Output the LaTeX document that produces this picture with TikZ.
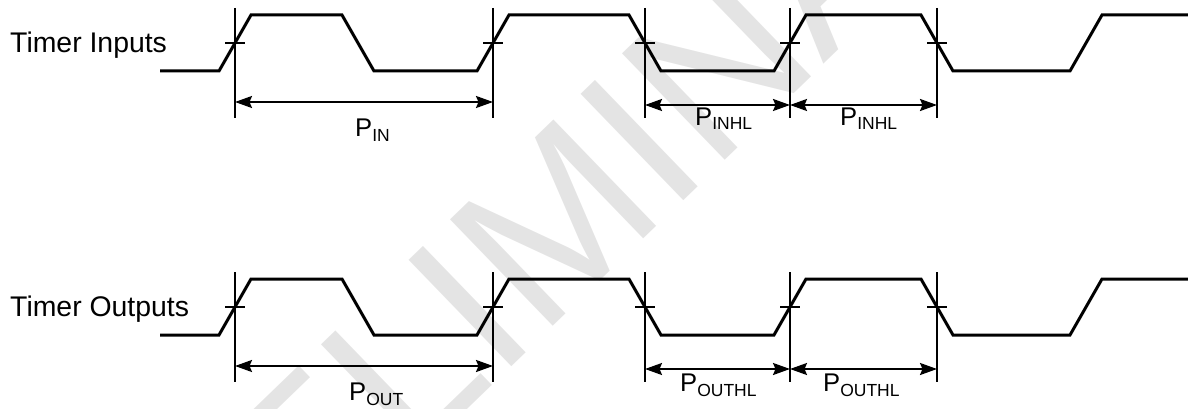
\documentclass[tikz,border=0pt]{standalone}
\usepackage{fontspec}
\setmainfont{Liberation Sans}
\usetikzlibrary{arrows.meta}
\definecolor{wmgray}{RGB}{228,228,228}
\newcommand\psub[1]{P\raisebox{-5pt}{\fontsize{17.5}{20}\selectfont #1}}
\begin{document}
\begin{tikzpicture}[x=1pt,y=-1pt,
  wave/.style={line width=3pt, line join=miter},
  marker/.style={line width=2pt},
  dim/.style={line width=2pt, {Stealth[length=17pt,width=12pt,inset=2.5pt]}-{Stealth[length=17pt,width=12pt,inset=2.5pt]}},
  sig/.style={anchor=base west, inner sep=0pt, font=\fontsize{28.4}{34}\selectfont},
  plabel/.style={anchor=base west, inner sep=0pt, font=\fontsize{25.6}{30}\selectfont},
  wmark/.style={rotate=44, inner sep=0pt, text=wmgray, font=\fontsize{215}{215}\selectfont}]
\useasboundingbox (0,0) rectangle (1188,409);
% watermark
\node[wmark] (wm) at (565,212) {PRELIMINARY};
% waveforms
\foreach \yo in {0,264} {
  \draw[wave] (160,71+\yo) -- (219,71+\yo) -- (251,15+\yo) -- (342,15+\yo) -- (374,71+\yo)
    -- (477,71+\yo) -- (509,15+\yo) -- (629,15+\yo) -- (661,71+\yo) -- (774,71+\yo)
    -- (806,15+\yo) -- (921,15+\yo) -- (953,71+\yo) -- (1070,71+\yo) -- (1102,15+\yo) -- (1188,15+\yo);
  \foreach \x in {235,493,645,790,937} {
    \draw[marker] (\x,8+\yo) -- (\x,118+\yo);
    \draw[marker] (\x-10,43+\yo) -- (\x+10,43+\yo);
  }
}
% dimension coordinates
\coordinate (ia) at (235,102);
\coordinate (ib) at (493,102);
\coordinate (ic) at (645,105);
\coordinate (id) at (790,105);
\coordinate (ie) at (937,105);
\coordinate (oa) at (235,366);
\coordinate (ob) at (493,366);
\coordinate (oc) at (645,369);
\coordinate (od) at (790,369);
\coordinate (oe) at (937,369);
\draw[dim] (ia) -- (ib);
\draw[dim] (ic) -- (id);
\draw[dim] (id) -- (ie);
\draw[dim] (oa) -- (ob);
\draw[dim] (oc) -- (od);
\draw[dim] (od) -- (oe);
% labels
\node[sig] (tin) at (10,52.7) {Timer Inputs};
\node[sig] (tout) at (10,316) {Timer Outputs};
\node[plabel] (lin) at (355,136.7) {\psub{IN}};
\node[plabel] (linhl1) at (695,125) {\psub{INHL}};
\node[plabel] (linhl2) at (840,125) {\psub{INHL}};
\node[plabel] (lout) at (349,400) {\psub{OUT}};
\node[plabel] (louthl1) at (680,391) {\psub{OUTHL}};
\node[plabel] (louthl2) at (823,391) {\psub{OUTHL}};
\end{tikzpicture}
\end{document}
